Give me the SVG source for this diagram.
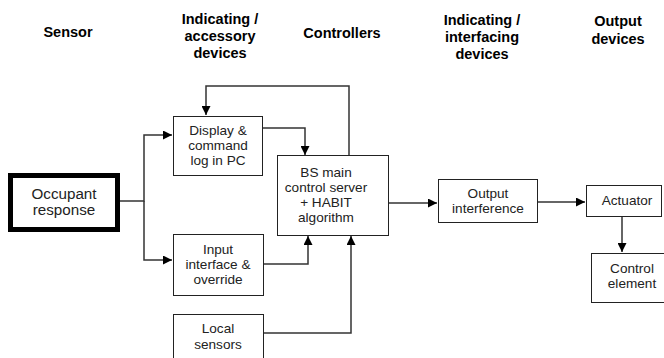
<svg xmlns="http://www.w3.org/2000/svg" width="664" height="358" viewBox="0 0 664 358">
<defs>
<style>
.hdr{font-family:"Liberation Sans",Arial,sans-serif;font-weight:bold;font-size:14.5px;fill:#000;text-anchor:middle}
.lbl{font-family:"Liberation Sans",Arial,sans-serif;font-size:13.6px;fill:#222;text-anchor:middle}
.big{font-size:15.2px}
.box{fill:#fff;stroke:#222;stroke-width:1}
.ln{fill:none;stroke:#333;stroke-width:1.5}
</style>
<marker id="ah" viewBox="0 0 10 10" refX="10" refY="5" markerWidth="10" markerHeight="9" markerUnits="userSpaceOnUse" orient="auto">
<path d="M0,0 L10,5 L0,10 Z" fill="#000"/>
</marker>
</defs>
<rect width="664" height="358" fill="#fff"/>
<g id="headers">
<text class="hdr" x="68" y="37">Sensor</text>
<text class="hdr" x="220" y="24">Indicating /</text>
<text class="hdr" x="220" y="41">accessory</text>
<text class="hdr" x="220" y="58">devices</text>
<text class="hdr" x="342" y="38">Controllers</text>
<text class="hdr" x="482" y="25">Indicating /</text>
<text class="hdr" x="482" y="42">interfacing</text>
<text class="hdr" x="482" y="59">devices</text>
<text class="hdr" x="618" y="26">Output</text>
<text class="hdr" x="618" y="44">devices</text>
</g>
<g id="connectors">
<path class="ln" d="M120,201 H144 V135 H172" marker-end="url(#ah)"/>
<path class="ln" d="M144,201 V260 H172" marker-end="url(#ah)"/>
<path class="ln" d="M263,128 H305 V155" marker-end="url(#ah)"/>
<path class="ln" d="M349,155 V86 H206 V115" marker-end="url(#ah)"/>
<path class="ln" d="M264,264 H308 V236" marker-end="url(#ah)"/>
<path class="ln" d="M264,333 H351 V236" marker-end="url(#ah)"/>
<path class="ln" d="M389,203 H437" marker-end="url(#ah)"/>
<path class="ln" d="M538,202 H585" marker-end="url(#ah)"/>
<path class="ln" d="M622,216 V252" marker-end="url(#ah)"/>
</g>
<g id="occupant">
<rect x="10.5" y="175.5" width="107" height="54" fill="#fff" stroke="#000" stroke-width="5"/>
<text class="lbl big" x="64" y="198.5">Occupant</text>
<text class="lbl big" x="64" y="215">response</text>
</g>
<g id="display">
<rect class="box" x="173.5" y="116.5" width="89" height="59"/>
<text class="lbl" x="218" y="135">Display &amp;</text>
<text class="lbl" x="218" y="150">command</text>
<text class="lbl" x="218" y="165">log in PC</text>
</g>
<g id="input">
<rect class="box" x="173.5" y="234.5" width="90" height="61"/>
<text class="lbl" x="218" y="254">Input</text>
<text class="lbl" x="218" y="269">interface &amp;</text>
<text class="lbl" x="218" y="284">override</text>
</g>
<g id="local">
<rect class="box" x="173.5" y="314.5" width="90" height="60"/>
<text class="lbl" x="218" y="333">Local</text>
<text class="lbl" x="218" y="349">sensors</text>
</g>
<g id="bs">
<rect class="box" x="277.5" y="155.5" width="111" height="80"/>
<text class="lbl" x="326" y="177">BS main</text>
<text class="lbl" x="326" y="192">control server</text>
<text class="lbl" x="326" y="207">+ HABIT</text>
<text class="lbl" x="326" y="222">algorithm</text>
</g>
<g id="output">
<rect class="box" x="438.5" y="179.5" width="99" height="43"/>
<text class="lbl" x="488" y="198">Output</text>
<text class="lbl" x="488" y="213">interference</text>
</g>
<g id="actuator">
<rect class="box" x="586.5" y="185.5" width="75" height="31"/>
<text class="lbl" x="627" y="205">Actuator</text>
</g>
<g id="control">
<rect class="box" x="591.5" y="253.5" width="80" height="49"/>
<text class="lbl" x="632" y="273">Control</text>
<text class="lbl" x="632" y="288">element</text>
</g>
</svg>
